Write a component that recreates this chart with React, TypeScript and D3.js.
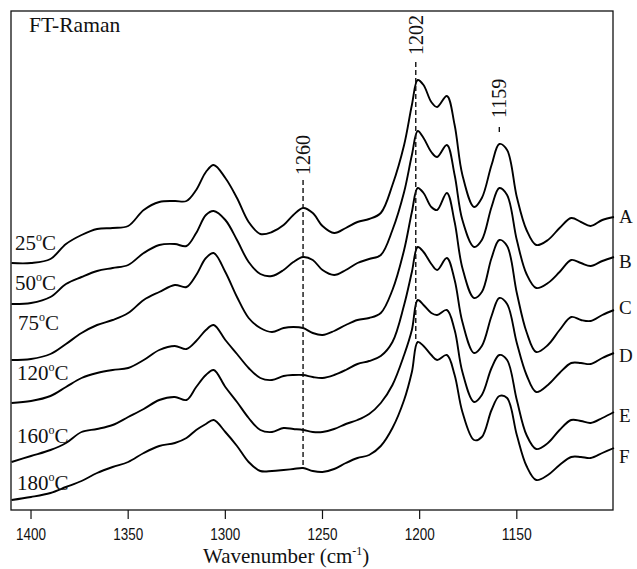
import React from "react";
import * as d3 from "d3";

// Wavenumber grid (cm^-1)
const wavenumbers = [1410, 1400, 1390, 1382, 1374, 1366, 1358, 1350, 1342, 1334, 1326, 1320, 1315, 1310, 1306, 1300, 1294, 1288, 1282, 1276, 1270, 1265, 1260, 1255, 1250, 1244, 1238, 1232, 1226, 1220, 1214, 1208, 1204, 1201, 1198, 1194, 1191, 1186, 1182, 1178, 1172, 1168, 1163, 1159, 1155, 1150, 1145, 1140, 1134, 1128, 1122, 1117, 1112, 1106, 1100];

// Offset Raman intensities (a.u.)
const spectrumA = [247, 247, 251, 266, 275, 281, 282, 284, 300, 308, 309, 309, 320, 338, 345, 332, 312, 288, 276, 278, 285, 295, 302, 297, 284, 277, 282, 288, 291, 297, 325, 365, 405, 430, 425, 408, 403, 414, 385, 335, 303, 312, 345, 366, 360, 313, 280, 265, 270, 282, 292, 288, 284, 290, 293];
const spectrumB = [206, 207, 213, 226, 233, 239, 242, 245, 257, 265, 266, 264, 277, 295, 299, 290, 270, 248, 236, 234, 240, 248, 253, 250, 240, 235, 240, 247, 251, 255, 280, 318, 355, 379, 372, 358, 353, 365, 335, 290, 263, 270, 303, 322, 315, 270, 236, 222, 227, 238, 250, 247, 244, 249, 253];
const spectrumC = [150, 151, 156, 166, 177, 185, 190, 197, 210, 218, 225, 223, 235, 252, 257, 238, 213, 192, 182, 178, 182, 183, 182, 177, 175, 179, 185, 190, 192, 197, 220, 260, 298, 322, 317, 303, 300, 317, 288, 242, 212, 218, 252, 270, 264, 217, 178, 158, 165, 180, 193, 190, 189, 195, 200];
const spectrumD = [107, 109, 114, 123, 132, 137, 140, 142, 150, 160, 164, 161, 169, 180, 185, 170, 156, 142, 132, 130, 134, 135, 135, 133, 132, 135, 140, 146, 149, 154, 168, 205, 238, 263, 258, 246, 240, 252, 230, 188, 157, 164, 194, 212, 206, 167, 135, 118, 125, 137, 147, 147, 146, 152, 157];
const spectrumE = [48, 54, 60, 67, 78, 81, 85, 93, 101, 110, 113, 110, 123, 135, 140, 123, 108, 92, 80, 78, 82, 81, 80, 78, 78, 81, 86, 90, 96, 107, 125, 155, 180, 210, 205, 197, 195, 200, 180, 138, 108, 115, 142, 155, 150, 110, 75, 61, 67, 80, 90, 89, 87, 92, 98];
const spectrumF = [10, 13, 17, 23, 29, 37, 43, 48, 57, 64, 67, 72, 80, 86, 90, 78, 64, 48, 39, 39, 40, 41, 42, 39, 38, 41, 47, 52, 55, 64, 82, 110, 138, 168, 164, 155, 150, 155, 135, 98, 70, 73, 100, 114, 112, 75, 44, 30, 35, 45, 53, 53, 52, 57, 62];

const seriesLetters = ["A", "B", "C", "D", "E", "F"];
const temperatures = ["25", "50", "75", "120", "160", "180"];
const seriesValues = [spectrumA, spectrumB, spectrumC, spectrumD, spectrumE, spectrumF];

const xTicks = [1400, 1350, 1300, 1250, 1200, 1150];
const peakMarks = [1260, 1202, 1159];

const W = 637;
const H = 569;
const left = 11, right = 613, top = 11, bottom = 510;

export default function App() {
  const x = d3.scaleLinear().domain([1410.3, 1100.5]).range([left, right]);
  const y = d3.scaleLinear().domain([0, 499]).range([bottom, top]);
  const line = d3
    .line<number>()
    .x((_, i) => x(wavenumbers[i]))
    .y((v) => y(v))
    .curve(d3.curveCatmullRom.alpha(0.5));

  const interp = (vals: number[], wn: number) => {
    for (let i = 0; i < wavenumbers.length - 1; i++) {
      const a = wavenumbers[i], b = wavenumbers[i + 1];
      if (wn <= a && wn >= b) {
        const t = (a - wn) / (a - b);
        return vals[i] + t * (vals[i + 1] - vals[i]);
      }
    }
    return vals[0];
  };
  const localMax = (vals: number[], wn: number) => {
    let m = -Infinity;
    wavenumbers.forEach((w, i) => {
      if (Math.abs(w - wn) <= 3) m = Math.max(m, vals[i]);
    });
    return m;
  };

  // label layout (pixels above the top spectrum), dash extent
  const peakLayout = [
    { gapLabel: 33, gapDash: 28, toBottom: true },
    { gapLabel: 25, gapDash: 18, toBottom: true },
    { gapLabel: 26, gapDash: 17, toBottom: false },
  ];

  const tempBaselines = [250, 290, 330, 380, 443, 490];
  const tempX = [15, 15, 18, 17, 17, 17];
  const letterBaselines = [223, 268, 314, 362, 422, 463];

  const serif = "'Liberation Serif', 'Times New Roman', serif";

  return (
    <svg width={W} height={H} style={{ position: "absolute", left: 0, top: 0, background: "#fff" }}>
      <rect x={0} y={0} width={W} height={H} fill="#fff" />
      {/* frame */}
      <rect x={left} y={top} width={right - left} height={bottom - top} fill="none" stroke="#111" strokeWidth={1.3} />
      {/* x ticks */}
      {xTicks.map((t) => (
        <g key={t}>
          <line x1={x(t)} x2={x(t)} y1={bottom} y2={bottom + 9} stroke="#111" strokeWidth={1.2} />
          <text
            x={x(t)}
            y={540}
            textAnchor="middle"
            fontFamily="'Liberation Sans Narrow', 'Liberation Sans', Arial, sans-serif"
            fontSize={17}
            textLength={30}
            lengthAdjust="spacingAndGlyphs"
            fill="#111"
          >
            {t}
          </text>
        </g>
      ))}
      {/* x label */}
      <text x={203} y={563} fontFamily={serif} fontSize={21} fill="#111">
        Wavenumber (cm
        <tspan dy={-8} fontSize={12}>-1</tspan>
        <tspan dy={8}>)</tspan>
      </text>
      {/* title */}
      <text x={29} y={32} fontFamily={serif} fontSize={21.5} fill="#111">
        FT-Raman
      </text>
      {/* spectra */}
      {seriesValues.map((vals, i) => (
        <path key={i} d={line(vals) || ""} fill="none" stroke="#000" strokeWidth={1.9} strokeLinejoin="round" />
      ))}
      {/* peak marks */}
      {peakMarks.map((wn, k) => {
        const lay = peakLayout[k];
        const topY = y(localMax(spectrumA, wn));
        const xp = x(wn);
        const labelBottom = topY - lay.gapLabel;
        const dashTop = topY - lay.gapDash;
        const dashBottom = lay.toBottom ? y(localMax(spectrumF, wn) > interp(spectrumF, wn) + 20 ? interp(spectrumF, wn) : localMax(spectrumF, wn)) : dashTop + 7;
        return (
          <g key={wn}>
            <line x1={xp} x2={xp} y1={dashTop} y2={dashBottom} stroke="#111" strokeWidth={1.4} strokeDasharray="5,3" />
            <text
              transform={`translate(${xp},${labelBottom}) rotate(-90)`}
              dominantBaseline="central"
              fontFamily={serif}
              fontSize={20}
              fill="#111"
            >
              {wn}
            </text>
          </g>
        );
      })}
      {/* temperature labels */}
      {temperatures.map((t, i) => (
        <text key={t} x={tempX[i]} y={tempBaselines[i]} fontFamily={serif} fontSize={21} fill="#111">
          {t}
          <tspan dy={-9} fontSize={12}>o</tspan>
          <tspan dy={9}>C</tspan>
        </text>
      ))}
      {/* series letters */}
      {seriesLetters.map((s, i) => (
        <text key={s} x={619} y={letterBaselines[i]} fontFamily={serif} fontSize={19} fill="#111">
          {s}
        </text>
      ))}
    </svg>
  );
}
